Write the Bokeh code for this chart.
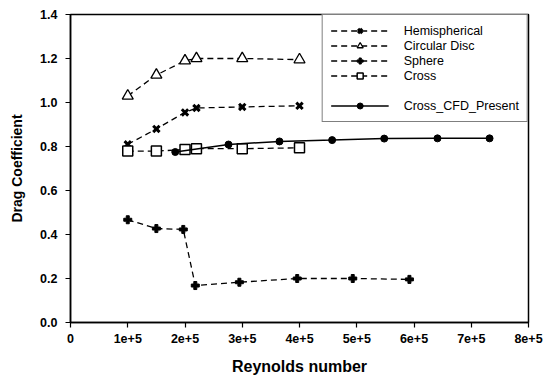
from bokeh.plotting import figure
from bokeh.models import Legend, LegendItem, Range1d, FixedTicker, NumeralTickFormatter
from bokeh.embed import file_html
from bokeh.resources import INLINE

# Data
hemi_x = [1.0e5, 1.5e5, 2.0e5, 2.2e5, 3.0e5, 4.0e5]
hemi_y = [0.81, 0.88, 0.955, 0.975, 0.98, 0.985]

disc_x = [1.0e5, 1.5e5, 2.0e5, 2.2e5, 3.0e5, 4.0e5]
disc_y = [1.03, 1.125, 1.19, 1.2, 1.2, 1.195]

sphere_x = [1.0e5, 1.5e5, 1.97e5, 2.18e5, 2.95e5, 3.96e5, 4.93e5, 5.92e5]
sphere_y = [0.467, 0.427, 0.423, 0.168, 0.183, 0.2, 0.2, 0.196]

cross_x = [1.0e5, 1.5e5, 2.0e5, 2.2e5, 3.0e5, 4.0e5]
cross_y = [0.779, 0.779, 0.786, 0.79, 0.79, 0.794]

cfd_x = [1.83e5, 2.76e5, 3.65e5, 4.57e5, 5.48e5, 6.41e5, 7.32e5]
cfd_y = [0.775, 0.809, 0.823, 0.829, 0.836, 0.837, 0.837]

x_ticks = [0, 1e5, 2e5, 3e5, 4e5, 5e5, 6e5, 7e5, 8e5]
x_tick_labels = ["0", "1e+5", "2e+5", "3e+5", "4e+5", "5e+5", "6e+5", "7e+5", "8e+5"]
y_ticks = [0.0, 0.2, 0.4, 0.6, 0.8, 1.0, 1.2, 1.4]

FONT = "Liberation Sans"

p = figure(width=554, height=377, output_backend="svg", toolbar_location=None,
           x_range=Range1d(0, 8e5), y_range=Range1d(0, 1.4),
           min_border_left=70, min_border_right=26, min_border_top=14, min_border_bottom=55)
p.background_fill_color = "white"
p.border_fill_color = "white"
p.grid.visible = False
p.outline_line_color = "black"
p.outline_line_width = 1.5

p.xaxis.ticker = FixedTicker(ticks=x_ticks)
p.xaxis.major_label_overrides = {t: l for t, l in zip(x_ticks, x_tick_labels)}
p.yaxis.ticker = FixedTicker(ticks=y_ticks)
p.yaxis.formatter = NumeralTickFormatter(format="0.0")
for ax in (p.xaxis, p.yaxis):
    ax.axis_line_color = "black"
    ax.axis_line_width = 1.5
    ax.major_tick_line_color = "black"
    ax.major_tick_line_width = 1.2
    ax.major_tick_out = 5
    ax.major_tick_in = 0
    ax.minor_tick_line_color = None
    ax.major_label_text_font = FONT
    ax.major_label_text_font_style = "bold"
    ax.major_label_text_font_size = "12.5px"
    ax.major_label_text_color = "black"
    ax.axis_label_text_font = FONT
    ax.axis_label_text_font_style = "bold"
    ax.axis_label_text_color = "black"
p.xaxis.axis_label = "Reynolds number"
p.xaxis.axis_label_text_font_size = "16px"
p.xaxis.axis_label_standoff = 12
p.yaxis.axis_label = "Drag Coefficient"
p.yaxis.axis_label_text_font_size = "14px"
p.yaxis.axis_label_standoff = 12
p.yaxis.major_label_standoff = 8
p.xaxis.major_label_standoff = 6

DASH = "6 4"

l1 = p.line(hemi_x, hemi_y, line_color="black", line_width=1.3, line_dash=DASH)
m1 = p.scatter(hemi_x, hemi_y, marker="x", size=9, line_color="black", line_width=3)

l2 = p.line(disc_x, disc_y, line_color="black", line_width=1.3, line_dash=DASH)
m2 = p.scatter(disc_x, disc_y, marker="triangle", size=11, line_color="black",
               fill_color="white", line_width=1.3)

l3 = p.line(sphere_x, sphere_y, line_color="black", line_width=1.3, line_dash=DASH)
m3 = p.scatter(sphere_x, sphere_y, marker="plus", size=8, line_color="black",
               fill_color="black", line_width=1)

l4 = p.line(cross_x, cross_y, line_color="black", line_width=1.3, line_dash=DASH)
m4 = p.scatter(cross_x, cross_y, marker="square", size=10, line_color="black",
               fill_color="white", line_width=1.5)

l5 = p.line(cfd_x, cfd_y, line_color="black", line_width=1.5)
m5 = p.scatter(cfd_x, cfd_y, marker="circle", size=7, line_color="black", fill_color="black")

blank = p.line([], [], line_alpha=0)

legend = Legend(items=[
    LegendItem(label="Hemispherical", renderers=[l1, m1]),
    LegendItem(label="Circular Disc", renderers=[l2, m2]),
    LegendItem(label="Sphere", renderers=[l3, m3]),
    LegendItem(label="Cross", renderers=[l4, m4]),
    LegendItem(label=" ", renderers=[blank]),
    LegendItem(label="Cross_CFD_Present", renderers=[l5, m5]),
], location="top_right")
legend.margin = 0
legend.padding = 8
legend.spacing = 0
legend.glyph_width = 58
legend.glyph_height = 15
legend.label_height = 15
legend.label_standoff = 15
legend.label_text_font = FONT
legend.label_text_font_size = "12.5px"
legend.label_text_color = "black"
legend.border_line_color = "black"
legend.border_line_width = 1.2
legend.background_fill_color = "white"
legend.background_fill_alpha = 1
p.add_layout(legend)

open("out.html", "w").write(file_html(p, INLINE))
